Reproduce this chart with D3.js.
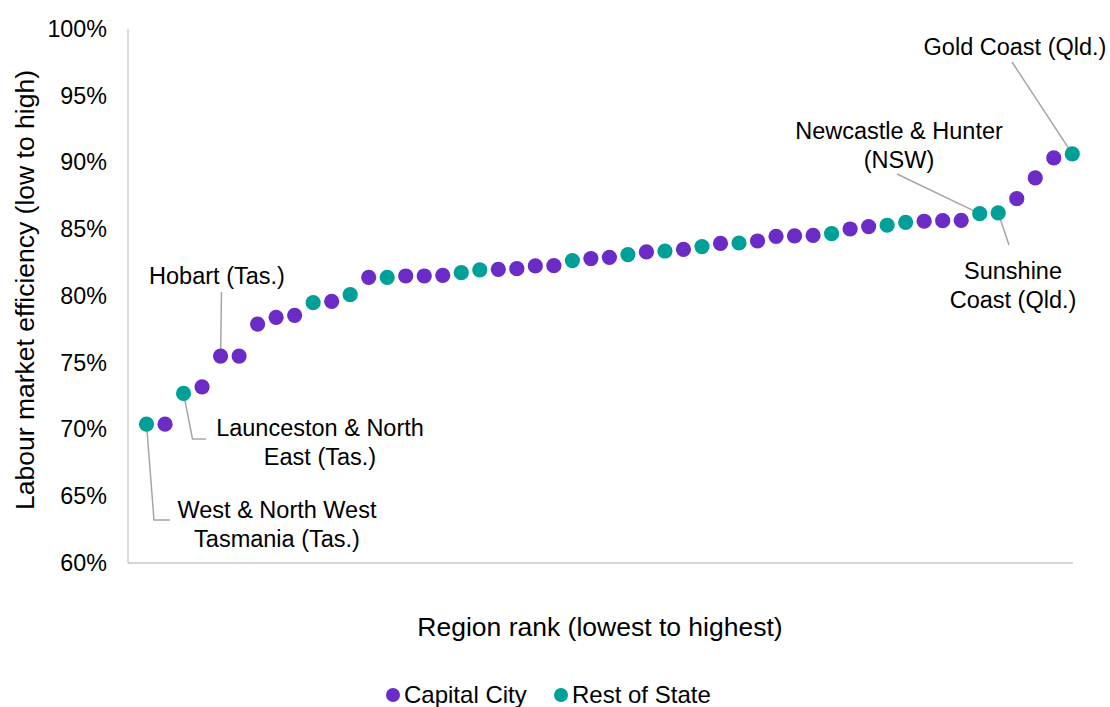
<!DOCTYPE html>
<html>
<head>
<meta charset="utf-8">
<script src="https://cdn.jsdelivr.net/npm/d3@7"></script>
<style>
  html, body { margin: 0; padding: 0; background: #fff; }
  svg { display: block; font-family: "Liberation Sans", Arial, sans-serif; }
</style>
</head>
<body>
<svg id="chart" width="1110" height="707"></svg>
<script>
// Region rank (1 = lowest efficiency)
const ranks = d3.range(1, 52);

// Labour market efficiency, percent, ordered by rank
const efficiency = [
  70.4, 70.4, 72.7, 73.2, 75.5, 75.5, 77.9, 78.4, 78.55, 79.5,
  79.6, 80.1, 81.4, 81.4, 81.5, 81.5, 81.55, 81.75, 81.95, 82.0,
  82.05, 82.25, 82.27, 82.65, 82.8, 82.9, 83.1, 83.3, 83.37, 83.5,
  83.7, 83.94, 83.97, 84.12, 84.47, 84.5, 84.54, 84.67, 85.02, 85.2,
  85.3, 85.52, 85.6, 85.64, 85.67, 86.17, 86.22, 87.29, 88.85, 90.34,
  90.64
];

// Region type for each rank
const regionType = [
  "Rest of State", "Capital City", "Rest of State", "Capital City", "Capital City",
  "Capital City", "Capital City", "Capital City", "Capital City", "Rest of State",
  "Capital City", "Rest of State", "Capital City", "Rest of State", "Capital City",
  "Capital City", "Capital City", "Rest of State", "Rest of State", "Capital City",
  "Capital City", "Capital City", "Capital City", "Rest of State", "Capital City",
  "Capital City", "Rest of State", "Capital City", "Rest of State", "Capital City",
  "Rest of State", "Capital City", "Rest of State", "Capital City", "Capital City",
  "Capital City", "Capital City", "Rest of State", "Capital City", "Capital City",
  "Rest of State", "Rest of State", "Capital City", "Capital City", "Capital City",
  "Rest of State", "Rest of State", "Capital City", "Capital City", "Capital City",
  "Rest of State"
];

const seriesNames = ["Capital City", "Rest of State"];
const yTicks = [60, 65, 70, 75, 80, 85, 90, 95, 100];

// Named regions called out on the chart
const calloutRanks = [1, 3, 5, 46, 47, 51];
const calloutText = [
  ["West & North West", "Tasmania (Tas.)"],
  ["Launceston & North", "East (Tas.)"],
  ["Hobart (Tas.)"],
  ["Newcastle & Hunter", "(NSW)"],
  ["Sunshine", "Coast (Qld.)"],
  ["Gold Coast (Qld.)"]
];

const colors = d3.scaleOrdinal().domain(seriesNames).range(["#6A2BC6", "#009F98"]);

const svg = d3.select("#chart");
const plot = { left: 128, right: 1073, top: 29, bottom: 563 };

const x = d3.scaleLinear().domain([0, 51]).range([plot.left, 1072.3]);
const y = d3.scaleLinear().domain([60, 100]).range([plot.bottom, plot.top]);

const tickFont = 23.3;
const calloutFont = 23.5;
const titleFont = 26.5;
const legendFont = 24;

// Axis lines
svg.append("line")
  .attr("x1", plot.left).attr("x2", plot.left)
  .attr("y1", plot.top).attr("y2", plot.bottom)
  .attr("stroke", "#c8c8c8").attr("stroke-width", 1.3);
svg.append("line")
  .attr("x1", plot.left).attr("x2", plot.right)
  .attr("y1", plot.bottom).attr("y2", plot.bottom)
  .attr("stroke", "#c8c8c8").attr("stroke-width", 1.3);

// Y axis tick labels
const yAxis = d3.axisLeft(y).tickValues(yTicks).tickSize(0).tickPadding(21)
  .tickFormat(d => d + "%");
const yG = svg.append("g").attr("transform", `translate(${plot.left},0)`).call(yAxis);
yG.select(".domain").remove();
yG.selectAll("text")
  .attr("font-size", tickFont)
  .attr("font-family", "Liberation Sans, Arial, sans-serif")
  .attr("fill", "#000");

// Axis titles
svg.append("text")
  .attr("transform", "translate(34,290) rotate(-90)")
  .attr("text-anchor", "middle")
  .attr("font-size", titleFont)
  .attr("fill", "#000")
  .text("Labour market efficiency (low to high)");

svg.append("text")
  .attr("x", 600).attr("y", 636)
  .attr("text-anchor", "middle")
  .attr("font-size", titleFont)
  .attr("fill", "#000")
  .text("Region rank (lowest to highest)");

// Leader lines for callouts
const pt = r => [x(r), y(efficiency[r - 1])];
const leaderPaths = [
  () => { const [px, py] = pt(1); return [[px, py], [154, 520], [170, 520]]; },
  () => { const [px, py] = pt(3); return [[px, py], [192.5, 439], [206, 439]]; },
  () => { const [px, py] = pt(5); return [[px, py], [221.5, 292]]; },
  () => { const [px, py] = pt(46); return [[px, py], [897, 174]]; },
  () => { const [px, py] = pt(47); return [[px, py], [1009, 245]]; },
  () => { const [px, py] = pt(51); return [[px, py], [1012, 62]]; }
];
svg.append("g").selectAll("path")
  .data(leaderPaths)
  .join("path")
  .attr("d", f => d3.line()(f()))
  .attr("fill", "none")
  .attr("stroke", "#a6a6a6")
  .attr("stroke-width", 1.5);

// Data points
const points = ranks.map((r, i) => ({ rank: r, value: efficiency[i], type: regionType[i] }));
svg.append("g").selectAll("circle")
  .data(points)
  .join("circle")
  .attr("cx", d => x(d.rank))
  .attr("cy", d => y(d.value))
  .attr("r", 7.6)
  .attr("fill", d => colors(d.type));

// Callout labels
const calloutPos = [
  { x: 277, y: 518, anchor: "middle" },
  { x: 320, y: 436, anchor: "middle" },
  { x: 217, y: 284, anchor: "middle" },
  { x: 899, y: 139, anchor: "middle" },
  { x: 1013, y: 279, anchor: "middle" },
  { x: 1015, y: 55, anchor: "middle" }
];
const labels = svg.append("g");
calloutText.forEach((lines, i) => {
  const p = calloutPos[i];
  const t = labels.append("text")
    .attr("x", p.x).attr("y", p.y)
    .attr("text-anchor", p.anchor)
    .attr("font-size", calloutFont)
    .attr("fill", "#000");
  lines.forEach((ln, j) => {
    t.append("tspan").attr("x", p.x).attr("dy", j === 0 ? 0 : 29).text(ln);
  });
});

// Legend
const legend = svg.append("g");
const legendItems = [
  { name: seriesNames[0], cx: 393, tx: 404 },
  { name: seriesNames[1], cx: 561, tx: 572 }
];
legendItems.forEach(it => {
  legend.append("circle").attr("cx", it.cx).attr("cy", 695).attr("r", 7)
    .attr("fill", colors(it.name));
  legend.append("text").attr("x", it.tx).attr("y", 703)
    .attr("font-size", legendFont).attr("fill", "#000").text(it.name);
});
</script>
</body>
</html>
